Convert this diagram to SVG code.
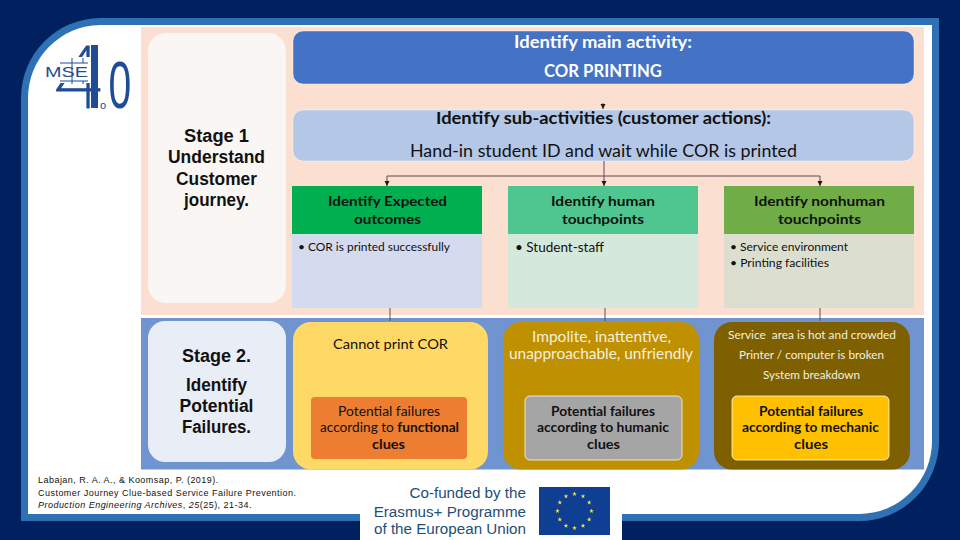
<svg xmlns="http://www.w3.org/2000/svg" xmlns:xlink="http://www.w3.org/1999/xlink" width="960" height="540" viewBox="0 0 960 540">
<defs>
<marker id="ah" markerUnits="userSpaceOnUse" markerWidth="6" markerHeight="6" refX="5" refY="3" orient="auto"><path d="M0 0.5L5 3L0 5.5Z" fill="#1a1a1a"/></marker>
<polygon id="star" points="0,-2.4 0.6,-0.8 2.3,-0.8 0.9,0.3 1.4,2 0,1 -1.4,2 -0.9,0.3 -2.3,-0.8 -0.6,-0.8" fill="#f4e04d"/>
</defs>
<style>
text{font-family:"Lato","Liberation Sans",sans-serif;text-anchor:middle;fill:#111}
.st{font-family:"Liberation Sans",Arial,sans-serif;font-weight:700;font-size:17.5px}
.b{font-weight:700}
.w{fill:#fff}
.cr{fill:#f5efdf}
.bul{text-anchor:start}
.cit{font-family:"Liberation Sans",Arial,sans-serif;font-size:9px;text-anchor:start;letter-spacing:.47px;fill:#111}
.cof{font-family:"Liberation Sans",Arial,sans-serif;font-size:15.2px;text-anchor:end;fill:#1f4e79}
.lg{font-family:"Liberation Sans",Arial,sans-serif;fill:#1f4c94}
.conn{fill:none;stroke:#5d4a55;stroke-width:1}
.cs{stroke:#fff;stroke-width:1;stroke-opacity:.75}
</style>
<rect width="960" height="540" fill="#002060"/>
<path id="frame" d="M100 18H939V441A80 80 0 0 1 859 521H21V98A80 80 0 0 1 100 18Z" fill="#2e72b5"/>
<path d="M100 25H932V441A73 73 0 0 1 859 514H28V98A73 73 0 0 1 100 25Z" fill="#fff"/>
<rect x="141" y="27" width="783" height="288" fill="#fbdfd0"/>
<rect x="141" y="318" width="783" height="151.500" fill="#7094cf"/>

<g id="stage1"><rect x="148" y="33" width="138" height="270" rx="18" fill="#f9f6f3"/>
<text class="st" x="216.500" y="142" textLength="65" lengthAdjust="spacingAndGlyphs">Stage 1</text>
<text class="st" x="216.500" y="163" textLength="97" lengthAdjust="spacingAndGlyphs">Understand</text>
<text class="st" x="216.500" y="185" textLength="81" lengthAdjust="spacingAndGlyphs">Customer</text>
<text class="st" x="216.500" y="206" textLength="65" lengthAdjust="spacingAndGlyphs">journey.</text></g>

<g id="main"><rect x="293" y="31" width="621" height="53" rx="10" fill="#4472c4" stroke="#fff" stroke-opacity=".6" stroke-width=".7"/>
<text class="b w" x="603" y="48" font-size="16.500" textLength="178" lengthAdjust="spacingAndGlyphs">Identify main activity:</text>
<text class="b w" x="603" y="77" font-size="16.500" textLength="118" lengthAdjust="spacingAndGlyphs">COR PRINTING</text></g>

<g id="sub"><rect x="293" y="110" width="621" height="51" rx="10" fill="#b4c7e7" stroke="#fff" stroke-opacity=".6" stroke-width=".7"/>
<text class="b" x="603.500" y="124" font-size="17" textLength="335" lengthAdjust="spacingAndGlyphs">Identify sub-activities (customer actions):</text>
<text x="603.500" y="157" font-size="17" textLength="387" lengthAdjust="spacingAndGlyphs">Hand-in student ID and wait while COR is printed</text></g>

<g id="expected"><rect x="292" y="186" width="190" height="48" fill="#00b050"/><rect x="292" y="234" width="190" height="74" fill="#d5dbee"/>
<text class="b" x="387.500" y="206" font-size="14" textLength="119" lengthAdjust="spacingAndGlyphs">Identify Expected</text>
<text class="b" x="387.500" y="224" font-size="14" textLength="67" lengthAdjust="spacingAndGlyphs">outcomes</text>
<text class="bul" x="298" y="251" font-size="12" textLength="152" lengthAdjust="spacingAndGlyphs">• COR is printed successfully</text></g>

<g id="human"><rect x="508" y="186" width="190" height="48" fill="#4fc68f"/><rect x="508" y="234" width="190" height="74" fill="#d4e8dc"/>
<text class="b" x="603" y="206" font-size="14" textLength="104" lengthAdjust="spacingAndGlyphs">Identify human</text>
<text class="b" x="603" y="224" font-size="14" textLength="82" lengthAdjust="spacingAndGlyphs">touchpoints</text>
<text class="bul" x="515" y="252" font-size="13" textLength="89" lengthAdjust="spacingAndGlyphs">• Student-staff</text></g>

<g id="nonhuman"><rect x="724" y="186" width="190" height="48" fill="#70ad47"/><rect x="724" y="234" width="190" height="74" fill="#dcdfd0"/>
<text class="b" x="819.500" y="206" font-size="14" textLength="131" lengthAdjust="spacingAndGlyphs">Identify nonhuman</text>
<text class="b" x="819.500" y="224" font-size="14" textLength="83" lengthAdjust="spacingAndGlyphs">touchpoints</text>
<text class="bul" x="730" y="251" font-size="12" textLength="118" lengthAdjust="spacingAndGlyphs">• Service environment</text>
<text class="bul" x="730" y="267" font-size="12" textLength="99" lengthAdjust="spacingAndGlyphs">• Printing facilities</text></g>

<g id="connectors">
<path class="conn" d="M603 103V109" marker-end="url(#ah)"/>
<path class="conn" d="M604 161V186" marker-end="url(#ah)"/>
<path class="conn" d="M387 176H820V186" marker-end="url(#ah)"/>
<path class="conn" d="M387 176V186" marker-end="url(#ah)"/>
<path class="conn" d="M390 308V321"/>
<path class="conn" d="M605 308V321"/>
<path class="conn" d="M820 308V321"/>
</g>

<g id="stage2"><rect x="148" y="321" width="138" height="141" rx="17" fill="#e9edf6"/>
<text class="st" x="216.500" y="362" textLength="69" lengthAdjust="spacingAndGlyphs">Stage 2.</text>
<text class="st" x="216.500" y="391" textLength="61" lengthAdjust="spacingAndGlyphs">Identify</text>
<text class="st" x="216.500" y="412" textLength="74" lengthAdjust="spacingAndGlyphs">Potential</text>
<text class="st" x="216.500" y="433" textLength="69" lengthAdjust="spacingAndGlyphs">Failures.</text></g>

<g id="functional"><rect x="293" y="322" width="195" height="147.500" rx="18" fill="#ffd966"/>
<text x="390.500" y="349" font-size="14" textLength="115" lengthAdjust="spacingAndGlyphs">Cannot print COR</text>
<rect x="311" y="397" width="156" height="62" rx="4" fill="#ed7d31"/>
<text x="389" y="416" font-size="13.500" textLength="102" lengthAdjust="spacingAndGlyphs">Potential failures</text>
<text x="389.500" y="432" font-size="13.500" textLength="139" lengthAdjust="spacingAndGlyphs">according to <tspan class="b">functional</tspan></text>
<text class="b" x="388.500" y="449" font-size="13.500" textLength="33" lengthAdjust="spacingAndGlyphs">clues</text></g>

<g id="humanic"><rect x="503" y="322" width="196" height="147.500" rx="18" fill="#bf9000"/>
<text class="cr" x="601.500" y="342" font-size="15" textLength="139" lengthAdjust="spacingAndGlyphs">Impolite, inattentive,</text>
<text class="cr" x="601" y="359" font-size="15" textLength="184" lengthAdjust="spacingAndGlyphs">unapproachable, unfriendly</text>
<rect class="cs" x="525" y="396" width="157" height="64" rx="5" fill="#a5a5a5"/>
<text class="b" x="603" y="416" font-size="13.500" textLength="104" lengthAdjust="spacingAndGlyphs">Potential failures</text>
<text class="b" x="603" y="432" font-size="13.500" textLength="132" lengthAdjust="spacingAndGlyphs">according to humanic</text>
<text class="b" x="603.500" y="449" font-size="13.500" textLength="33" lengthAdjust="spacingAndGlyphs">clues</text></g>

<g id="mechanic"><rect x="714" y="322" width="196" height="147.500" rx="18" fill="#7f6000"/>
<text class="cr" x="812" y="339" font-size="12" textLength="168" lengthAdjust="spacingAndGlyphs" xml:space="preserve">Service  area is hot and crowded</text>
<text class="cr" x="811.500" y="359" font-size="12" textLength="145" lengthAdjust="spacingAndGlyphs">Printer / computer is broken</text>
<text class="cr" x="811.500" y="379" font-size="12" textLength="97" lengthAdjust="spacingAndGlyphs">System breakdown</text>
<rect class="cs" x="732" y="396" width="157" height="64" rx="5" fill="#ffc000"/>
<text class="b" x="811" y="416" font-size="13.500" textLength="104" lengthAdjust="spacingAndGlyphs">Potential failures</text>
<text class="b" x="810.500" y="432" font-size="13.500" textLength="137" lengthAdjust="spacingAndGlyphs">according to mechanic</text>
<text class="b" x="811" y="449" font-size="13.500" textLength="34" lengthAdjust="spacingAndGlyphs">clues</text></g>

<g id="citation">
<text class="cit" x="38" y="483">Labajan, R. A. A., &amp; Koomsap, P. (2019).</text>
<text class="cit" x="38" y="496">Customer Journey Clue-based Service Failure Prevention.</text>
<text class="cit" x="38" y="508"><tspan font-style="italic">Production Engineering Archives</tspan>, <tspan font-style="italic">25</tspan>(25), 21-34.</text>
</g>

<g id="funding">
<rect x="360" y="470" width="262" height="70" fill="#fff"/>
<text class="cof" x="526" y="498">Co-funded by the</text>
<text class="cof" x="526" y="517">Erasmus+ Programme</text>
<text class="cof" x="526" y="534">of the European Union</text>
<rect x="539" y="487" width="71" height="48" fill="#0f3f93"/>
<use xlink:href="#star" href="#star" x="574.500" y="494"/><use href="#star" x="583" y="496.300"/><use href="#star" x="589.200" y="502.500"/><use href="#star" x="591.500" y="511"/><use href="#star" x="589.200" y="519.500"/><use href="#star" x="583" y="525.700"/><use href="#star" x="574.500" y="528"/><use href="#star" x="566" y="525.700"/><use href="#star" x="559.800" y="519.500"/><use href="#star" x="557.500" y="511"/><use href="#star" x="559.800" y="502.500"/><use href="#star" x="566" y="496.300"/>
</g>

<g id="logo">
<text x="77" y="108" font-size="88" style="font-family:Roboto,'Liberation Sans',sans-serif;font-weight:100;fill:#1f4c94;stroke:#1f4c94;stroke-width:.8">4</text>
<rect x="91" y="45" width="7" height="63" fill="#1f4c94"/>
<rect x="60" y="57" width="30" height="26" fill="#fff"/>
<text class="lg" x="0" y="108" font-size="66" transform="translate(120 0) scale(.62 1)" style="text-anchor:middle">0</text>
<text class="lg" x="103" y="109" font-size="11">o</text>
<text class="lg" x="66.500" y="77" font-size="15" textLength="43" lengthAdjust="spacingAndGlyphs">MSE</text>
<path d="M60 63H88M60 81H88M72 58V84M83 58V63M83 81V84" stroke="#1f4c94" stroke-width="1" fill="none"/>
</g>
</svg>
